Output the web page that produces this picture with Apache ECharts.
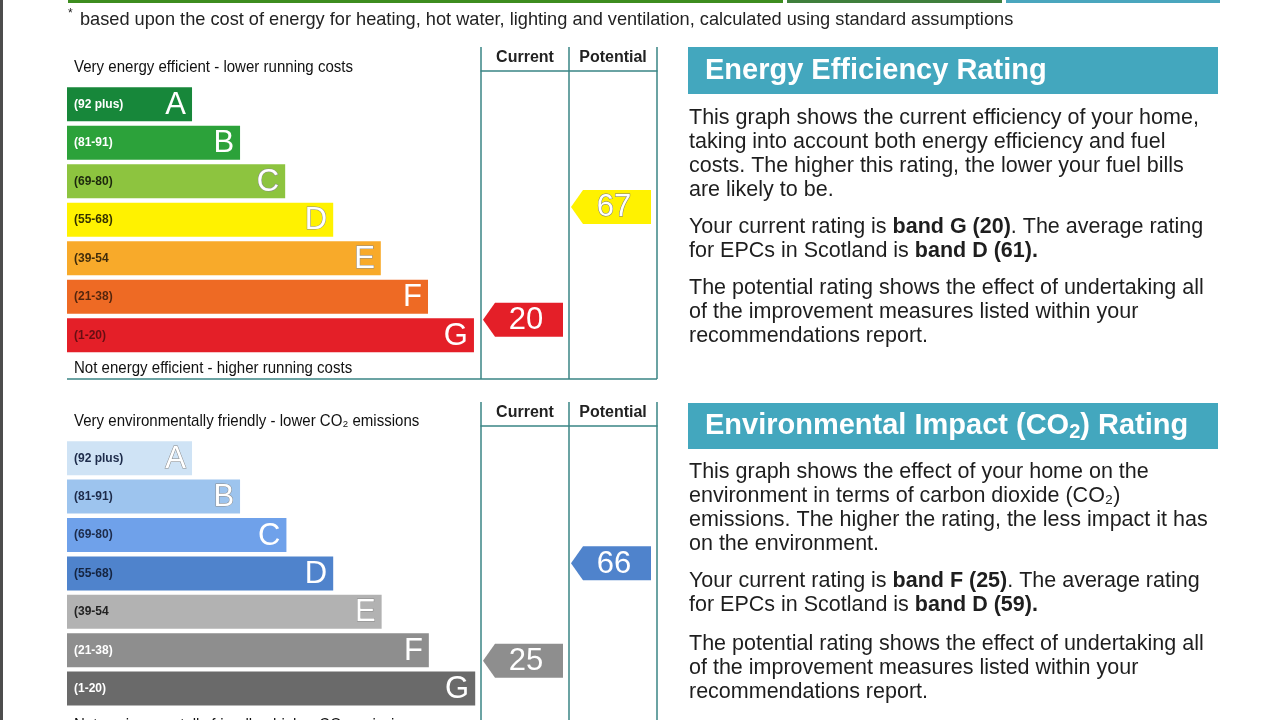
<!DOCTYPE html>
<html><head><meta charset="utf-8">
<script src="https://cdn.jsdelivr.net/npm/echarts@6/dist/echarts.min.js"></script>
<style>html,body{margin:0;padding:0;background:#fff}#c{width:1280px;height:720px}</style>
</head><body><div id="c"></div>
<script>
// ---- data ----
const bands = ['A','B','C','D','E','F','G'];
const bandRanges = ['(92 plus)','(81-91)','(69-80)','(55-68)','(39-54','(21-38)','(1-20)'];
const bandLow = [92,81,69,55,39,21,1];
const bandHigh = [100,91,80,68,54,38,20];
const energyBarLengths = [30.2,41.8,52.7,64.3,75.8,87.2,98.3];
const co2BarLengths = [30.2,41.8,53.0,64.3,76.0,87.4,98.6];
const columns = ['Current','Potential'];
const energyRatings = [20, 67];
const co2Ratings = [25, 66];

// ---- styles ----
const FONT = "'Liberation Sans', Arial, sans-serif";
const TEAL = '#3a8585';
const energyColors = ['#17873a','#2ca23a','#8dc43f','#fff200','#f8aa2a','#ee6a24','#e41f28'];
const co2Colors = ['#cfe3f5','#9dc4ee','#6fa1ea','#4f83cc','#b2b2b2','#8e8e8e','#6a6a6a'];
const energyRangeColors = ['#fff','#fff','rgba(0,0,0,0.8)','rgba(0,0,0,0.8)','rgba(0,0,0,0.75)','rgba(0,0,0,0.65)','rgba(0,0,0,0.55)'];
const co2RangeColors = ['#1d2b4a','#1d2b4a','#1d2b4a','#152440','#222','#fff','#fff'];
const energyOutline = [false,false,true,true,true,false,false];
const co2Outline = [true,true,false,false,true,false,false];

const panels = [
  {bandTop:85, slot:38.5, colTop:71, colH:308},
  {bandTop:439, slot:38.4, colTop:426, colH:294}
];

function bandOf(r){ for(let i=0;i<bands.length;i++){ if(r>=bandLow[i] && r<=bandHigh[i]) return i; } return 6; }
function ratingPos(r){
  const i = bandOf(r);
  const frac = (bandHigh[i]-r)/(bandHigh[i]-bandLow[i]+1);
  return i + 0.1 + 0.93*frac;
}

function barSeries(xi, lengths, colors, rangeColors, outline){
  return {
    type:'custom', xAxisIndex:xi, yAxisIndex:xi, clip:false,
    encode:{x:0, y:1},
    data: lengths.map((v,i)=>[v,i]),
    renderItem(params, api){
      const i = api.value(1);
      const s = api.coord([0, i]);
      const e = api.coord([api.value(0), i]);
      const h = api.size([0,1])[1]*0.885;
      return {type:'group', children:[
        {type:'rect', shape:{x:s[0], y:s[1]-h/2, width:e[0]-s[0], height:h}, style:{fill:colors[i]}},
        {type:'text', x:s[0]+7, y:s[1], style:{text:bandRanges[i], fill:rangeColors[i], font:'bold 12px '+FONT, verticalAlign:'middle', align:'left'}},
        {type:'text', x:e[0]-6, y:s[1]+1, style:{text:bands[i], fill:'#fff', font:'31px '+FONT, verticalAlign:'middle', align:'right',
          stroke: outline[i] ? '#8a8a8a' : null, lineWidth: outline[i] ? 1 : 0}}
      ]};
    }
  };
}
function arrowSeries(xi, ratings, colors, outline){
  return {
    type:'custom', xAxisIndex:xi, yAxisIndex:xi, clip:false,
    encode:{x:0, y:1},
    data: ratings.map((r,i)=>[i, ratingPos(r), r]),
    renderItem(params, api){
      const c = api.coord([api.value(0), api.value(1)]);
      const w = api.size([1,0])[0];
      const r = api.value(2);
      const b = bandOf(r);
      const left = c[0]-w/2+2, right = c[0]+w/2-6, h = 34, n = 12;
      return {type:'group', children:[
        {type:'polygon', shape:{points:[[left,c[1]],[left+n,c[1]-h/2],[right,c[1]-h/2],[right,c[1]+h/2],[left+n,c[1]+h/2]]}, style:{fill:colors[b]}},
        {type:'text', x:c[0]+1, y:c[1]+1, style:{text:String(r), fill:'#fff', font:'31px '+FONT, align:'center', verticalAlign:'middle',
          stroke: outline[b] ? '#777' : null, lineWidth: outline[b] ? 1 : 0}}
      ]};
    }
  };
}

const grids = [], xAxes = [], yAxes = [];
panels.forEach((p)=>{
  grids.push({left:67, top:p.bandTop, width:414, height:7*p.slot, outerBoundsMode:'none', containLabel:false});
  grids.push({left:481, top:p.colTop, width:176, height:p.colH, outerBoundsMode:'none', containLabel:false});
  xAxes.push({gridIndex:grids.length-2, type:'value', min:0, max:100, show:false});
  xAxes.push({gridIndex:grids.length-1, type:'category', data:columns, position:'top', boundaryGap:true,
    axisLine:{show:true, onZero:false, lineStyle:{color:TEAL, width:1.5}},
    axisTick:{show:true, length:24, inside:false, alignWithLabel:false, lineStyle:{color:TEAL, width:1.5}},
    axisLabel:{margin:5, color:'#222', fontFamily:FONT, fontWeight:'bold', fontSize:16},
    splitLine:{show:true, lineStyle:{color:TEAL, width:1.5}}});
  yAxes.push({gridIndex:grids.length-2, type:'category', data:bands, inverse:true, show:false});
  const mn = -(p.bandTop-p.colTop)/p.slot;
  yAxes.push({gridIndex:grids.length-1, type:'value', inverse:true, min:mn, max:mn+p.colH/p.slot, show:false, splitLine:{show:false}});
});

const txt = (x,y,text,font,fill,extra)=>Object.assign({type:'text', x, y, silent:true, style:{text, font, fill, verticalAlign:'middle', align:'left'}}, extra||{});
const para = (x,y,text)=>({type:'text', x, y, silent:true, style:{text, font:'21.5px '+FONT, fill:'#1e1e1e', lineHeight:24, verticalAlign:'top',
  rich:{b:{fontWeight:'bold', fontSize:21.5, fontFamily:"'Liberation Sans', Arial, sans-serif", fill:'#1e1e1e', lineHeight:24}}}});
const hdr = (x,y,text)=>txt(x,y,text,'17px '+FONT,'#111',{scaleX:0.885});

const graphic = [
  {type:'rect', shape:{x:0,y:0,width:3,height:720}, style:{fill:'#4d4d4d'}},
  {type:'rect', shape:{x:68,y:0,width:715,height:3}, style:{fill:'#3d8d1f'}},
  {type:'rect', shape:{x:787,y:0,width:215,height:3}, style:{fill:'#3f7f3c'}},
  {type:'rect', shape:{x:1006,y:0,width:214,height:3}, style:{fill:'#4aa6be'}},
  txt(68,14,'*','12px '+FONT,'#222'),
  txt(80,20,'based upon the cost of energy for heating, hot water, lighting and ventilation, calculated using standard assumptions','18.2px '+FONT,'#222'),
  hdr(74,67,'Very energy efficient - lower running costs'),
  hdr(74,368,'Not energy efficient - higher running costs'),
  {type:'line', shape:{x1:67,y1:379,x2:657,y2:379}, style:{stroke:TEAL, lineWidth:1.5}},
  hdr(74,421,'Very environmentally friendly - lower CO\u2082 emissions'),
  hdr(74,725,'Not environmentally friendly - higher CO\u2082 emissions'),
  {type:'rect', shape:{x:688,y:47,width:530,height:47}, style:{fill:'#43a7be'}},
  txt(705,71,'Energy Efficiency Rating','bold 29px '+FONT,'#fff'),
  {type:'rect', shape:{x:688,y:403,width:530,height:46}, style:{fill:'#43a7be'}},
  {type:'text', x:705, y:426, silent:true, style:{text:'Environmental Impact (CO{s|2}) Rating', font:'bold 29px '+FONT, fill:'#fff', verticalAlign:'middle',
    rich:{s:{fontSize:20, fontWeight:'bold', fontFamily:"'Liberation Sans', Arial, sans-serif", fill:'#fff', verticalAlign:'top', padding:[13,0,0,0]}}}},
  para(689,106,'This graph shows the current efficiency of your home,\ntaking into account both energy efficiency and fuel\ncosts. The higher this rating, the lower your fuel bills\nare likely to be.'),
  para(689,215,'Your current rating is {b|band G (20)}. The average rating\nfor EPCs in Scotland is {b|band D (61).}'),
  para(689,276,'The potential rating shows the effect of undertaking all\nof the improvement measures listed within your\nrecommendations report.'),
  para(689,460,'This graph shows the effect of your home on the\nenvironment in terms of carbon dioxide (CO\u2082)\nemissions. The higher the rating, the less impact it has\non the environment.'),
  para(689,569,'Your current rating is {b|band F (25)}. The average rating\nfor EPCs in Scotland is {b|band D (59).}'),
  para(689,632,'The potential rating shows the effect of undertaking all\nof the improvement measures listed within your\nrecommendations report.')
];

const chart = echarts.init(document.getElementById('c'));
chart.setOption({
  animation:false,
  backgroundColor:'#fff',
  grid:grids, xAxis:xAxes, yAxis:yAxes,
  series:[
    barSeries(0, energyBarLengths, energyColors, energyRangeColors, energyOutline),
    arrowSeries(1, energyRatings, energyColors, energyOutline),
    barSeries(2, co2BarLengths, co2Colors, co2RangeColors, co2Outline),
    arrowSeries(3, co2Ratings, co2Colors, co2Outline)
  ],
  graphic
});
</script></body></html>
